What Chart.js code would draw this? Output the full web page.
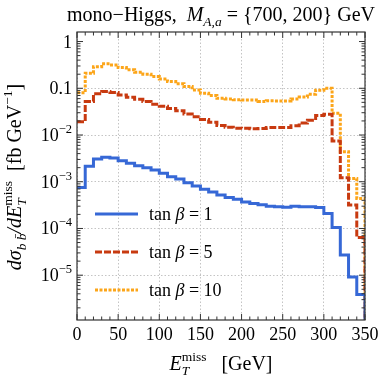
<!DOCTYPE html>
<html><head><meta charset="utf-8">
<script src="https://cdn.jsdelivr.net/npm/chart.js@4/dist/chart.umd.min.js"></script>
<style>html,body{margin:0;padding:0;background:#fff}canvas{display:block}</style>
</head><body>
<canvas id="c" width="386" height="381"></canvas>
<script>
// ---- data ----
const binStarts = [0,10,20,30,40,50,60,70,80,90,100,110,120,130,140,150,160,170,180,190,200,210,220,230,240,250,260,270,280,290,300,310,320,330,340];
const binWidth = 10;
const seriesLabels = ['1','5','10'];
const tanb1 = [7.5e-4,2.14e-3,3.07e-3,3.33e-3,3.22e-3,2.82e-3,2.48e-3,2.2e-3,2.0e-3,1.78e-3,1.51e-3,1.28e-3,1.14e-3,9.5e-4,8.1e-4,6.9e-4,6.0e-4,5.2e-4,4.6e-4,4.2e-4,3.67e-4,3.44e-4,3.22e-4,3.0e-4,2.92e-4,2.85e-4,3.0e-4,2.9e-4,2.92e-4,2.8e-4,2.1e-4,1.05e-4,2.69e-5,9.1e-6,3.86e-6];
const tanb5 = [0.0193,0.0518,0.076,0.085,0.081,0.072,0.0645,0.058,0.0518,0.0455,0.0412,0.037,0.033,0.028,0.0245,0.0215,0.0188,0.016,0.0146,0.014,0.0139,0.0136,0.0138,0.0145,0.0144,0.0145,0.0158,0.0181,0.0207,0.026,0.0277,0.00745,0.00122,3.17e-4,6.4e-5];
const tanb10 = [0.08,0.21,0.29,0.333,0.316,0.277,0.248,0.221,0.2,0.178,0.158,0.139,0.125,0.109,0.092,0.078,0.0697,0.061,0.059,0.057,0.056,0.056,0.052,0.054,0.0536,0.0536,0.0592,0.0653,0.0745,0.0908,0.1,0.0292,0.0044,0.00118,4.4e-4];
const xTickValues = [0,50,100,150,200,250,300,350];
const yTickValues = [1,0.1,0.01,1e-3,1e-4,1e-5];
const yTickBase = ['1','0.1','10','10','10','10'];
const yTickExp = ['','','\u22122','\u22123','\u22124','\u22125'];

const FONT = "'Liberation Serif','Times New Roman',serif";
const colors = ['#3668d6','#c83a10','#fca519'];
const dashes = [[],[7,2],[3,1.5]];

function histPoints(vals){
  const pts = binStarts.map((x,i)=>({x:x, y:vals[i]}));
  const end = binStarts[binStarts.length-1] + binWidth;
  pts.push({x:end, y:vals[vals.length-1]});
  pts.push({x:end, y:1e-9});
  return pts;
}

function drawRich(ctx, segs, x, y, align){
  const pos=[]; let cx=0, prevStart=0, prevEnd=0;
  segs.forEach(s=>{
    ctx.font = (s.it?'italic ':'') + s.sz + 'px ' + FONT;
    const w = ctx.measureText(s.t).width;
    const start = s.stack ? prevStart : cx;
    pos.push(start);
    const end = start + w;
    if (s.stack){ cx = Math.max(prevEnd, end); prevEnd = cx; }
    else { cx = end; prevStart = start; prevEnd = end; }
  });
  const ox = align==='center' ? x - cx/2 : (align==='right' ? x - cx : x);
  segs.forEach((s,i)=>{
    ctx.font = (s.it?'italic ':'') + s.sz + 'px ' + FONT;
    ctx.fillText(s.t, ox+pos[i], y+(s.dy||0));
  });
  return cx;
}

const decor = {
  id:'decor',
  afterDraw(chart){
    const {ctx, chartArea:a} = chart;
    const xs = chart.scales.x, ys = chart.scales.y;
    ctx.save();
    ctx.fillStyle='#000';
    ctx.textBaseline='alphabetic';
    ctx.textAlign='left';
    // frame
    ctx.strokeStyle='#333'; ctx.lineWidth=1.2; ctx.setLineDash([]);
    ctx.strokeRect(a.left, a.top, a.right-a.left, a.bottom-a.top);
    // tick marks (inward)
    ctx.lineWidth=1;
    ctx.beginPath();
    for (let v=xs.min; v<=xs.max; v+=10){
      const px = xs.getPixelForValue(v);
      const L = (v%50===0)?6:3.5;
      ctx.moveTo(px,a.bottom); ctx.lineTo(px,a.bottom-L);
      ctx.moveTo(px,a.top); ctx.lineTo(px,a.top+L);
    }
    for (let d=-6; d<=0; d++){
      for (let m=1; m<=9; m++){
        const v = m*Math.pow(10,d);
        if (v<ys.min || v>ys.max) continue;
        const py = ys.getPixelForValue(v);
        const L = (m===1)?6:3.5;
        ctx.moveTo(a.left,py); ctx.lineTo(a.left+L,py);
        ctx.moveTo(a.right,py); ctx.lineTo(a.right-L,py);
      }
    }
    ctx.stroke();
    // y tick labels
    yTickValues.forEach((v,i)=>{
      const py = ys.getPixelForValue(v);
      const segs=[{t:yTickBase[i], sz:18}];
      if (yTickExp[i]) segs.push({t:yTickExp[i], sz:12.5, dy:-8});
      drawRich(ctx, segs, a.left-5, py+6, 'right');
    });
    // legend
    chart.data.datasets.forEach((ds,i)=>{
      const ly = a.top + 182 + i*38;
      ctx.strokeStyle = ds.borderColor; ctx.lineWidth = ds.borderWidth;
      ctx.setLineDash(ds.borderDash||[]);
      ctx.beginPath(); ctx.moveTo(95,ly); ctx.lineTo(138,ly); ctx.stroke();
      ctx.setLineDash([]);
      drawRich(ctx,[{t:'tan ',sz:18},{t:'\u03B2',it:true,sz:18},{t:' = '+seriesLabels[i],sz:18}],149,ly+6,'left');
    });
    // title
    drawRich(ctx,[
      {t:'mono\u2212Higgs,  ',sz:20},
      {t:'M',it:true,sz:20},
      {t:'A,a',it:true,sz:13.5,dy:5},
      {t:' = {700, 200} GeV',sz:20}
    ], 221, 21, 'center');
    // x title
    drawRich(ctx,[
      {t:'E',it:true,sz:20},
      {t:'T',it:true,sz:13.5,dy:5},
      {t:'miss',sz:13.5,dy:-9,stack:true},
      {t:'   [GeV]',sz:20}
    ], (a.left+a.right)/2, 370, 'center');
    // y title (rotated)
    ctx.save();
    ctx.translate(21, 177);
    ctx.rotate(-Math.PI/2);
    drawRich(ctx,[
      {t:'d\u03C3',it:true,sz:20},
      {t:'b b\u0304',it:true,sz:13.5,dy:5},
      {t:'/dE',it:true,sz:20},
      {t:'T',it:true,sz:13.5,dy:5},
      {t:'miss',sz:13.5,dy:-9,stack:true},
      {t:'  [fb GeV',sz:20},
      {t:'\u22121',sz:13.5,dy:-9},
      {t:']',sz:20}
    ], 0, 0, 'center');
    ctx.restore();
    ctx.restore();
  }
};

const datasets = [tanb1,tanb5,tanb10].map((vals,i)=>({
  label:'tan \u03B2 = '+seriesLabels[i],
  data: histPoints(vals),
  borderColor: colors[i],
  borderWidth: 3,
  borderDash: dashes[i],
  stepped: 'before',
  pointRadius: 0,
  fill: false,
  borderCapStyle: 'butt',
  borderJoinStyle: 'miter'
}));

new Chart(document.getElementById('c'), {
  type:'line',
  data:{datasets},
  options:{
    responsive:false,
    animation:false,
    layout:{padding:{top:32,right:21,left:0,bottom:0}},
    plugins:{legend:{display:false},tooltip:{enabled:false},title:{display:false}},
    scales:{
      x:{
        type:'linear', min:0, max:350,
        afterFit(s){ s.height = 61; },
        afterBuildTicks(s){ s.ticks = xTickValues.map(v=>({value:v})); },
        ticks:{font:{family:FONT,size:18}, color:'#000', padding:4, maxRotation:0, autoSkip:false},
        grid:{color:'#c4c4c4', lineWidth:1, drawTicks:false},
        border:{display:false, dash:[1.5,2]}
      },
      y:{
        type:'logarithmic', min:1.1e-6, max:1.6,
        afterFit(s){ s.width = 77; },
        ticks:{display:false},
        grid:{
          drawTicks:false, lineWidth:1,
          color(ctx){ const v=ctx.tick && ctx.tick.value; if(!v) return 'rgba(0,0,0,0)'; const l=Math.log10(v); return Math.abs(l-Math.round(l))<1e-9 && l<0 ? '#c4c4c4':'rgba(0,0,0,0)'; }
        },
        border:{display:false, dash:[1.5,2]}
      }
    }
  },
  plugins:[decor]
});
</script>
</body></html>
